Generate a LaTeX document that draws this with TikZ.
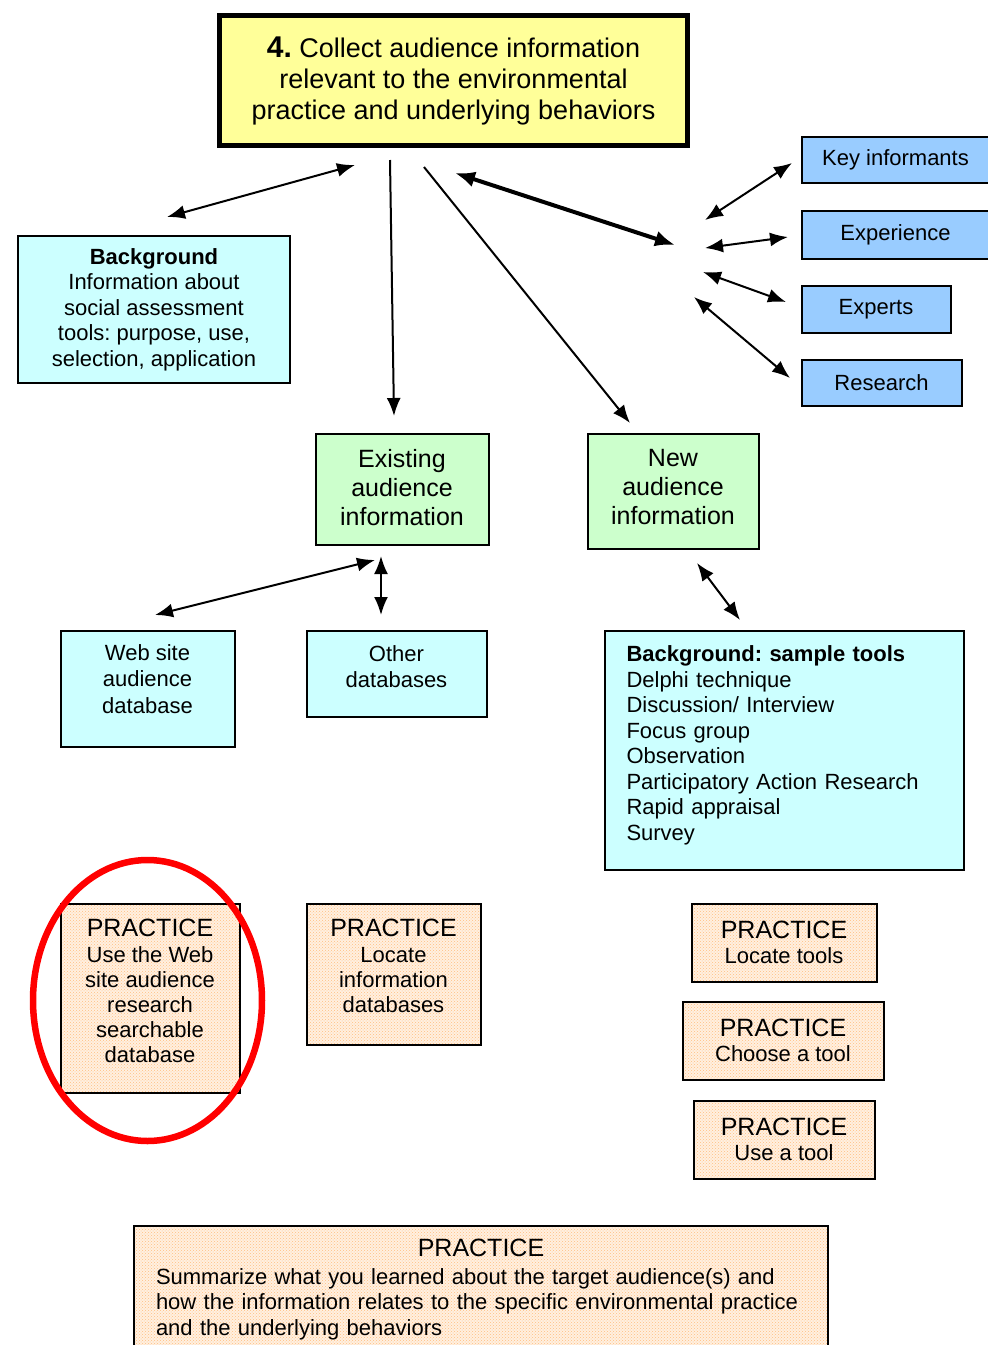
\documentclass[tikz,border=0pt]{standalone}
\usepackage{fontspec}
\setmainfont{Liberation Sans}
\usetikzlibrary{arrows.meta,positioning,patterns,shapes.geometric}

\definecolor{goalyellow}{HTML}{FFFF99}
\definecolor{bgcyan}{HTML}{CCFFFF}
\definecolor{srcblue}{HTML}{99CCFF}
\definecolor{infogreen}{HTML}{CCFFCC}
\definecolor{practpeach}{HTML}{FFF0E0}
\definecolor{dotorange}{HTML}{FFBE82}

\tikzset{
  box/.style={draw=black,line width=2pt,inner sep=0pt,align=center,
    font=\fontsize{22}{25.5}\selectfont},
  bgbox/.style={box,fill=bgcyan},
  srcbox/.style={box,fill=srcblue},
  infobox/.style={box,fill=infogreen,font=\fontsize{25}{29}\selectfont},
  practbox/.style={box,preaction={fill=practpeach},pattern=crosshatch dots,pattern color=dotorange,
    font=\fontsize{22}{25}\selectfont},
  link/.style={line width=2pt,>={Latex[length=18pt,width=14pt]}},
}
\newcommand{\practhead}{{\fontsize{25}{27}\selectfont PRACTICE}}

\begin{document}
\frenchspacing
\begin{tikzpicture}[x=1pt,y=-1pt]
\useasboundingbox (0,0) rectangle (988,1345);
\clip (0,0) rectangle (988,1345);

% boxes
\node[box,fill=goalyellow,line width=4.5pt,minimum width=468pt,minimum height=130pt,
  font=\fontsize{27}{31}\selectfont] (goal) at (453.5,80.5)
  {{\bfseries\fontsize{30}{31}\selectfont 4.} Collect audience information\\relevant to the environmental\\practice and underlying behaviors};
\node[bgbox,minimum width=272pt,minimum height=147pt] (bginfo) at (154,309.5)
  {\textbf{Background}\\Information about\\social assessment\\tools: purpose, use,\\selection, application};

\node[srcbox,minimum width=187pt,minimum height=46pt] (keyinf) at (895.5,160) {Key informants};
\node[srcbox,minimum width=187pt,minimum height=48pt] (exper) at (895.5,234.5) {Experience};
\node[srcbox,minimum width=149pt,minimum height=47pt] (experts) at (876,309) {Experts};
\node[srcbox,minimum width=160pt,minimum height=46pt] (research) at (881.5,383) {Research};

\node[infobox,minimum width=173pt,minimum height=111pt] (existing) at (402,489)
  {Existing\\audience\\information\\[-25pt]\mbox{}};
\node[infobox,minimum width=171pt,minimum height=115pt] (newinfo) at (673,491)
  {New\\audience\\information\\[-21pt]\mbox{}};

\node[bgbox,minimum width=174pt,minimum height=116pt,font=\fontsize{22}{26.5}\selectfont] (webdb) at (147.5,688.5)
  {Web site\\audience\\database\\[-7pt]\mbox{}};
\node[bgbox,minimum width=180pt,minimum height=86pt] (otherdb) at (396.5,673.5)
  {Other\\databases\\[-11.5pt]\mbox{}};
\node[bgbox,minimum width=359pt,minimum height=239pt,text width=315pt,align=left] (tools) at (784,750)
  {\textbf{Background: sample tools}\\Delphi technique\\Discussion/ Interview\\Focus group\\Observation\\Participatory Action Research\\Rapid appraisal\\Survey\\[-12pt]\mbox{}};

% practice boxes
\node[practbox,minimum width=179pt,minimum height=189pt] (pweb) at (150,998)
  {\practhead\\[1pt]Use the Web\\site audience\\research\\searchable\\database\\[-11pt]\mbox{}};
\node[practbox,minimum width=174pt,minimum height=141pt] (plocinfo) at (393.5,974)
  {\practhead\\[1pt]Locate\\information\\databases\\[-9pt]\mbox{}};
\node[practbox,minimum width=185pt,minimum height=78pt] (ploctool) at (784,942.5)
  {\practhead\\Locate tools};
\node[practbox,minimum width=201pt,minimum height=78pt] (pchoose) at (783,1040.5)
  {\practhead\\Choose a tool};
\node[practbox,minimum width=181pt,minimum height=78pt] (puse) at (784,1139.5)
  {\practhead\\Use a tool};
\node[practbox,anchor=north,minimum width=694pt,inner xsep=22pt,inner ysep=13pt,
  text width=650pt,align=left,font=\fontsize{22}{25.5}\selectfont] (psum) at (481,1225)
  {\makebox[\hsize]{\practhead}\\[2.5pt]Summarize what you learned about the target audience(s) and\\how the information relates to the specific environmental practice\\and the underlying behaviors\\[-6pt]\mbox{}};

\node[ellipse,draw=red,line width=6.5pt,minimum width=229pt,minimum height=281pt] (mark) at (147.5,1000.5) {};

% arrow ends
\coordinate (goal-bg) at (355,165);   \coordinate (bg-goal) at (167,217);
\coordinate (goal-ex) at (390,160);   \coordinate (ex-goal) at (394,416);
\coordinate (goal-new) at (424,167);  \coordinate (new-goal) at (630,423);
\coordinate (goal-hub) at (455,173);  \coordinate (hub) at (675,245);
\coordinate (hub-key) at (705,220);   \coordinate (key-hub) at (792,163);
\coordinate (hub-exp) at (705,248);   \coordinate (exp-hub) at (788,237);
\coordinate (hub-xps) at (703,272);   \coordinate (xps-hub) at (786,302);
\coordinate (hub-res) at (694,297);   \coordinate (res-hub) at (790,378);
\coordinate (ex-web) at (375,560);    \coordinate (web-ex) at (155,615);
\coordinate (ex-oth) at (381,556);    \coordinate (oth-ex) at (381,615);
\coordinate (new-tool) at (697,563);  \coordinate (tool-new) at (740,620);

% connectors
\draw[link,<->] (goal-bg) -- (bg-goal);
\draw[link,->] (goal-ex) -- (ex-goal);
\draw[link,->] (goal-new) -- (new-goal);
\draw[link,<->,line width=4pt,>={Latex[length=20pt,width=16pt]}] (goal-hub) -- (hub);
\draw[link,<->] (hub-key) -- (key-hub);
\draw[link,<->] (hub-exp) -- (exp-hub);
\draw[link,<->] (hub-xps) -- (xps-hub);
\draw[link,<->] (hub-res) -- (res-hub);
\draw[link,<->] (ex-web) -- (web-ex);
\draw[link,<->] (ex-oth) -- (oth-ex);
\draw[link,<->] (new-tool) -- (tool-new);
\end{tikzpicture}
\end{document}
